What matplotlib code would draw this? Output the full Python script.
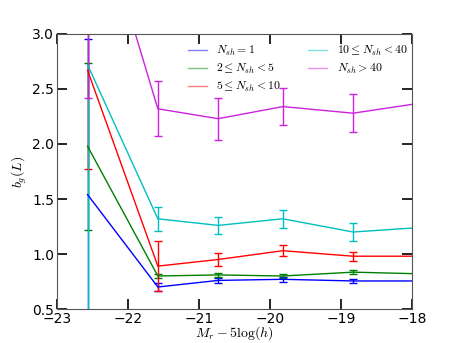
import matplotlib
matplotlib.use("Agg")
import matplotlib.pyplot as plt

plt.rcParams['mathtext.fontset'] = 'cm'

# magnitude bins
mag = [-22.57, -21.58, -20.73, -19.82, -18.83, -17.9]

# bias per satellite-number bin, with errors
b_1 = [1.54, 0.70, 0.76, 0.77, 0.755, 0.755]
e_1 = [1.41, 0.04, 0.02, 0.02, 0.015, 0.015]
b_2_5 = [1.98, 0.80, 0.81, 0.80, 0.835, 0.82]
e_2_5 = [0.76, 0.02, 0.02, 0.02, 0.02, 0.02]
b_5_10 = [2.67, 0.89, 0.95, 1.03, 0.98, 0.98]
e_5_10 = [0.90, 0.23, 0.06, 0.05, 0.04, 0.04]
b_10_40 = [2.72, 1.32, 1.26, 1.32, 1.20, 1.24]
e_10_40 = [2.50, 0.11, 0.08, 0.08, 0.08, 0.08]
b_40 = [4.45, 2.32, 2.23, 2.34, 2.28, 2.37]
e_40 = [2.03, 0.25, 0.19, 0.17, 0.17, 0.17]

labels = [r'$N_{sh}=1$', r'$2\leq N_{sh}<5$', r'$5\leq N_{sh}<10$',
          r'$10\leq N_{sh}<40$', r'$N_{sh}>40$']
colors = ['b', 'g', 'r', 'c', '#cc22dd']

fig = plt.figure(figsize=(4.58, 3.43), dpi=100)
ax = fig.add_axes([0.1245, 0.0991, 0.7751, 0.8018])

series = [(b_1, e_1), (b_2_5, e_2_5), (b_5_10, e_5_10), (b_10_40, e_10_40), (b_40, e_40)]
for (b, e), c, lab in zip(series, colors, labels):
    ax.errorbar(mag, b, yerr=e, color=c, lw=1, elinewidth=1, capsize=3, label=lab)

ax.set_xlim(-23, -18)
ax.set_ylim(0.5, 3.0)
ax.set_xticks([-23, -22, -21, -20, -19, -18])
ax.set_yticks([0.5, 1.0, 1.5, 2.0, 2.5, 3.0])
ax.tick_params(direction='in', length=7, width=1.2, top=True, right=True,
               labelsize=10, pad=2)
for s in ax.spines.values():
    s.set_color('#555555')

ax.set_xlabel(r'$M_r-5\log(h)$', fontsize=10, labelpad=-1)
ax.set_ylabel(r'$b_g(L)$', fontsize=10, labelpad=2)

h, l = ax.get_legend_handles_labels()
h = [x[0] for x in h]
leg = ax.legend(h, l, ncol=2, frameon=False, loc='upper left', fontsize=8.5,
                handlelength=1.6, handletextpad=0.8, columnspacing=2.3,
                labelspacing=0.35, borderpad=0, borderaxespad=0,
                bbox_to_anchor=(0.369, 0.964))
for line in leg.get_lines():
    line.set_alpha(0.5)

fig.savefig('out.png', dpi=100)
